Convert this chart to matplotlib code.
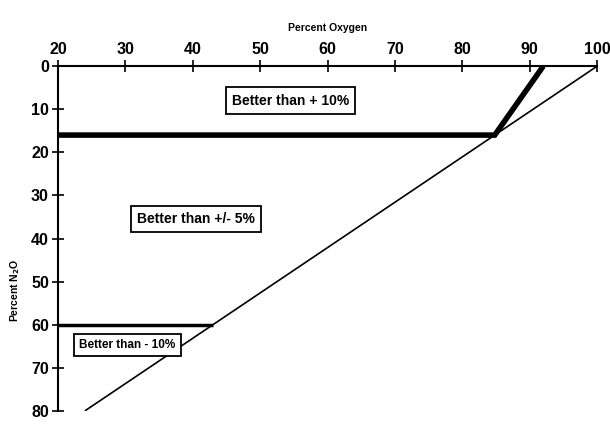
import matplotlib
matplotlib.use("Agg")
import matplotlib.pyplot as plt

plt.rcParams['font.family'] = ['Liberation Sans', 'DejaVu Sans']

# boundary lines (Percent Oxygen, Percent N2O)
diag_x = [24, 100]
diag_y = [80, 0]
upper_x = [20, 84.8, 92]
upper_y = [16, 16, 0]
lower_x = [20, 43]
lower_y = [60, 60]

# region labels
region_labels = ["Better than + 10%", "Better than +/- 5%", "Better than - 10%"]
region_x = [54.5, 40.5, 30.3]
region_y = [8, 35.5, 64.7]
region_size = [10, 10, 8.5]

xticks = [20, 30, 40, 50, 60, 70, 80, 90, 100]
yticks = [0, 10, 20, 30, 40, 50, 60, 70, 80]

fig = plt.figure(figsize=(6.1, 4.24), dpi=100)
ax = fig.add_axes([0.095, 0.031, 0.884, 0.813])

ax.plot(diag_x, diag_y, color="black", lw=1.2, solid_capstyle="butt")
ax.plot(upper_x, upper_y, color="black", lw=4, solid_joinstyle="miter", solid_capstyle="butt")
ax.plot(lower_x, lower_y, color="black", lw=2.5, solid_capstyle="butt")

for txt, x, y, s in zip(region_labels, region_x, region_y, region_size):
    ax.text(x, y, txt, ha="center", va="center", fontsize=s, fontweight="bold",
            bbox=dict(boxstyle="square,pad=0.45", fc="white", ec="black", lw=1.3))

ax.set_xlim(20, 100)
ax.set_ylim(80, 0)
ax.set_xticks(xticks)
ax.set_yticks(yticks)
ax.xaxis.tick_top()
ax.xaxis.set_label_position("top")
for s in ["right", "bottom"]:
    ax.spines[s].set_visible(False)
for s in ["left", "top"]:
    ax.spines[s].set_linewidth(1.5)
ax.tick_params(direction="inout", length=9, width=1.2, labelsize=11.5, pad=2)
for lab in ax.get_xticklabels() + ax.get_yticklabels():
    lab.set_fontweight("bold")

ax.set_xlabel("Percent Oxygen", fontsize=7.5, fontweight="bold", labelpad=8)
ax.set_ylabel("Percent N$_\\mathbf{2}$O", fontsize=7.5, fontweight="bold")
ax.yaxis.set_label_coords(-0.067, 0.35)

fig.savefig("out.png", dpi=100)
